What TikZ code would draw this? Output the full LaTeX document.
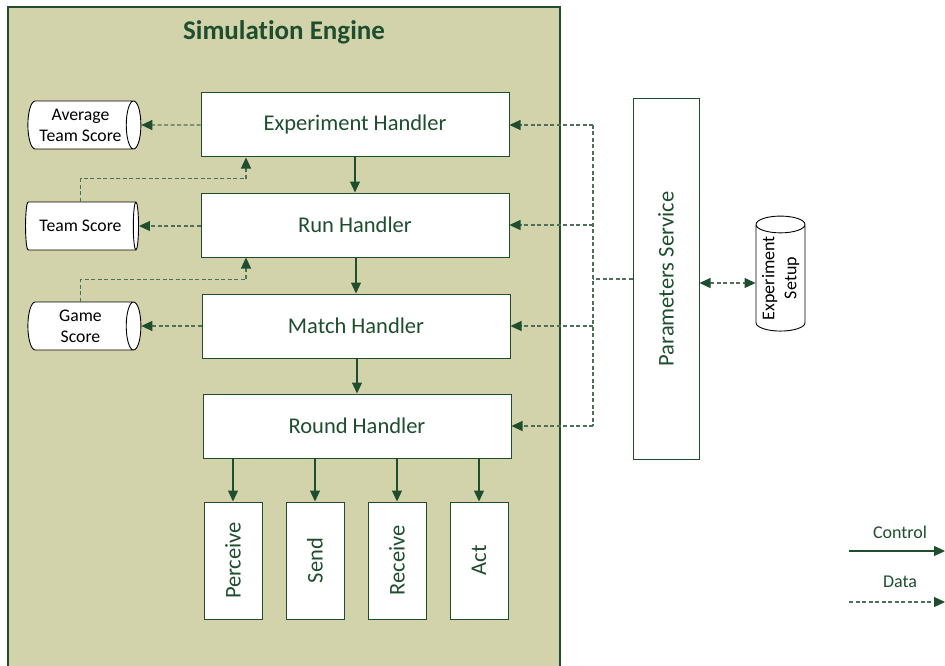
\documentclass[tikz,border=0pt]{standalone}
\usepackage{fontspec}
\setmainfont{Carlito}[Ligatures=NoCommon]
\usepackage{graphicx}
\usetikzlibrary{shapes.geometric,arrows.meta,calc}
\definecolor{dg}{RGB}{31,78,47}
\definecolor{dl}{RGB}{78,112,86}
\definecolor{tanbg}{RGB}{210,211,171}
\begin{document}
\begin{tikzpicture}[x=1pt,y=-1pt,
  handler/.style={draw=dg, line width=1pt, fill=white, minimum width=308pt, minimum height=64pt, inner sep=0pt, text=dg, font=\fontsize{22.5}{27}\selectfont},
  subbox/.style={draw=dg, line width=1pt, fill=white, minimum width=58pt, minimum height=117pt, inner sep=0pt, text=dg, font=\fontsize{22.5}{27}\selectfont},
  cyl/.style={cylinder, draw=black, line width=0.9pt, fill=white, aspect=0.45, inner sep=0pt, align=center, font=\fontsize{17.7}{21}\selectfont},
  ctrl/.style={draw=dg, line width=1.1pt, -{Triangle[length=11pt,width=10pt]}},
  data/.style={draw=dl, line width=1.1pt, dash pattern=on 4pt off 2.5pt, -{Triangle[length=11pt,width=10pt,color=dg,fill=dg]}},
  dataline/.style={draw=dl, line width=1.1pt, dash pattern=on 4pt off 2.5pt},
  lbl/.style={text=dg, font=\fontsize{18}{21}\selectfont}]
\useasboundingbox (0,0) rectangle (945,666);
\fill[white] (0,0) rectangle (945,666);
% simulation engine container
\draw[draw=dg, line width=1.3pt, fill=tanbg] (8,7) rectangle (560,672);
\node[text=dg, font=\fontsize{27}{32}\selectfont\bfseries] (title) at (284,32) {Simulation Engine};
% handlers
\node[handler] (eh) at (355,125) {Experiment Handler};
\node[handler] (rh) at (355,225) {Run Handler};
\node[handler] (mh) at (356,326) {Match Handler};
\node[handler] (rnd) at (357,426) {Round Handler};
% sub boxes
\node[subbox] (per) at (233,560.5) {\rotatebox{90}{Perceive}};
\node[subbox] (snd) at (315,560.5) {\rotatebox{90}{Send}};
\node[subbox] (rcv) at (397,560.5) {\rotatebox{90}{Receive}};
\node[subbox] (act) at (479,560.5) {\rotatebox{90}{Act}};
% cylinders
\node[cyl, minimum width=48pt, minimum height=113pt] (avg) at (80.5,125) {Average\\Team Score};
\node[cyl, minimum width=48pt, minimum height=113pt] (ts) at (80.5,226) {Team Score};
\node[cyl, minimum width=48pt, minimum height=113pt] (gs) at (80.5,326) {Game\\Score};
% parameters service
\node[draw=dg, line width=1pt, fill=white, minimum width=66pt, minimum height=360pt, inner sep=0pt, text=dg, font=\fontsize{22.5}{27}\selectfont] (ps) at (666,279) {\rotatebox{90}{Parameters Service}};
\node[cyl, rotate=90, minimum width=49pt, minimum height=115pt, font=\fontsize{18}{22}\selectfont] (es) at (780.5,278) {Experiment\\Setup};
% control arrows
\draw[ctrl] (eh.south) -- (rh.north);
\draw[ctrl] (rh.south -| mh.north) -- (mh.north);
\draw[ctrl] (mh.south -| rnd.north) -- (rnd.north);
\foreach \b in {per,snd,rcv,act} \draw[ctrl] (\b.north |- rnd.south) -- (\b.north);
% data arrows to cylinders
\draw[data] (eh.west) -- (avg.east);
\draw[data] (rh.west |- ts.east) -- (ts.east);
\draw[data] (mh.west |- gs.east) -- (gs.east);
\draw[data] (ts.north) -- ++(0,-23) -| ([xshift=-109pt]eh.south);
\draw[data] (gs.north) -- ++(0,-22) -| ([xshift=-109pt]rh.south);
% parameters bus
\coordinate (bus) at (593,279);
\draw[dataline] (ps.west) -- (bus);
\draw[dataline] (bus |- eh.east) -- (bus |- rnd.east);
\draw[data] (bus |- eh.east) -- (eh.east);
\draw[data] (bus |- rh.east) -- (rh.east);
\draw[data] (bus |- mh.east) -- (mh.east);
\draw[data] (bus |- rnd.east) -- (rnd.east);
\coordinate (dy) at (727,283);
\draw[data, {Triangle[length=11pt,width=10pt,color=dg,fill=dg]}-{Triangle[length=11pt,width=10pt,color=dg,fill=dg]}] (ps.east |- dy) -- (es.north |- dy);
% legend
\node[lbl] (lc) at (900,532) {Control};
\node[lbl] (ld) at (900,582) {Data};
\coordinate (c1a) at (849,551);
\coordinate (c1b) at (945,551);
\coordinate (d1a) at (849,602);
\coordinate (d1b) at (945,602);
\draw[ctrl] (c1a) -- (c1b);
\draw[data] (d1a) -- (d1b);
\end{tikzpicture}
\end{document}
